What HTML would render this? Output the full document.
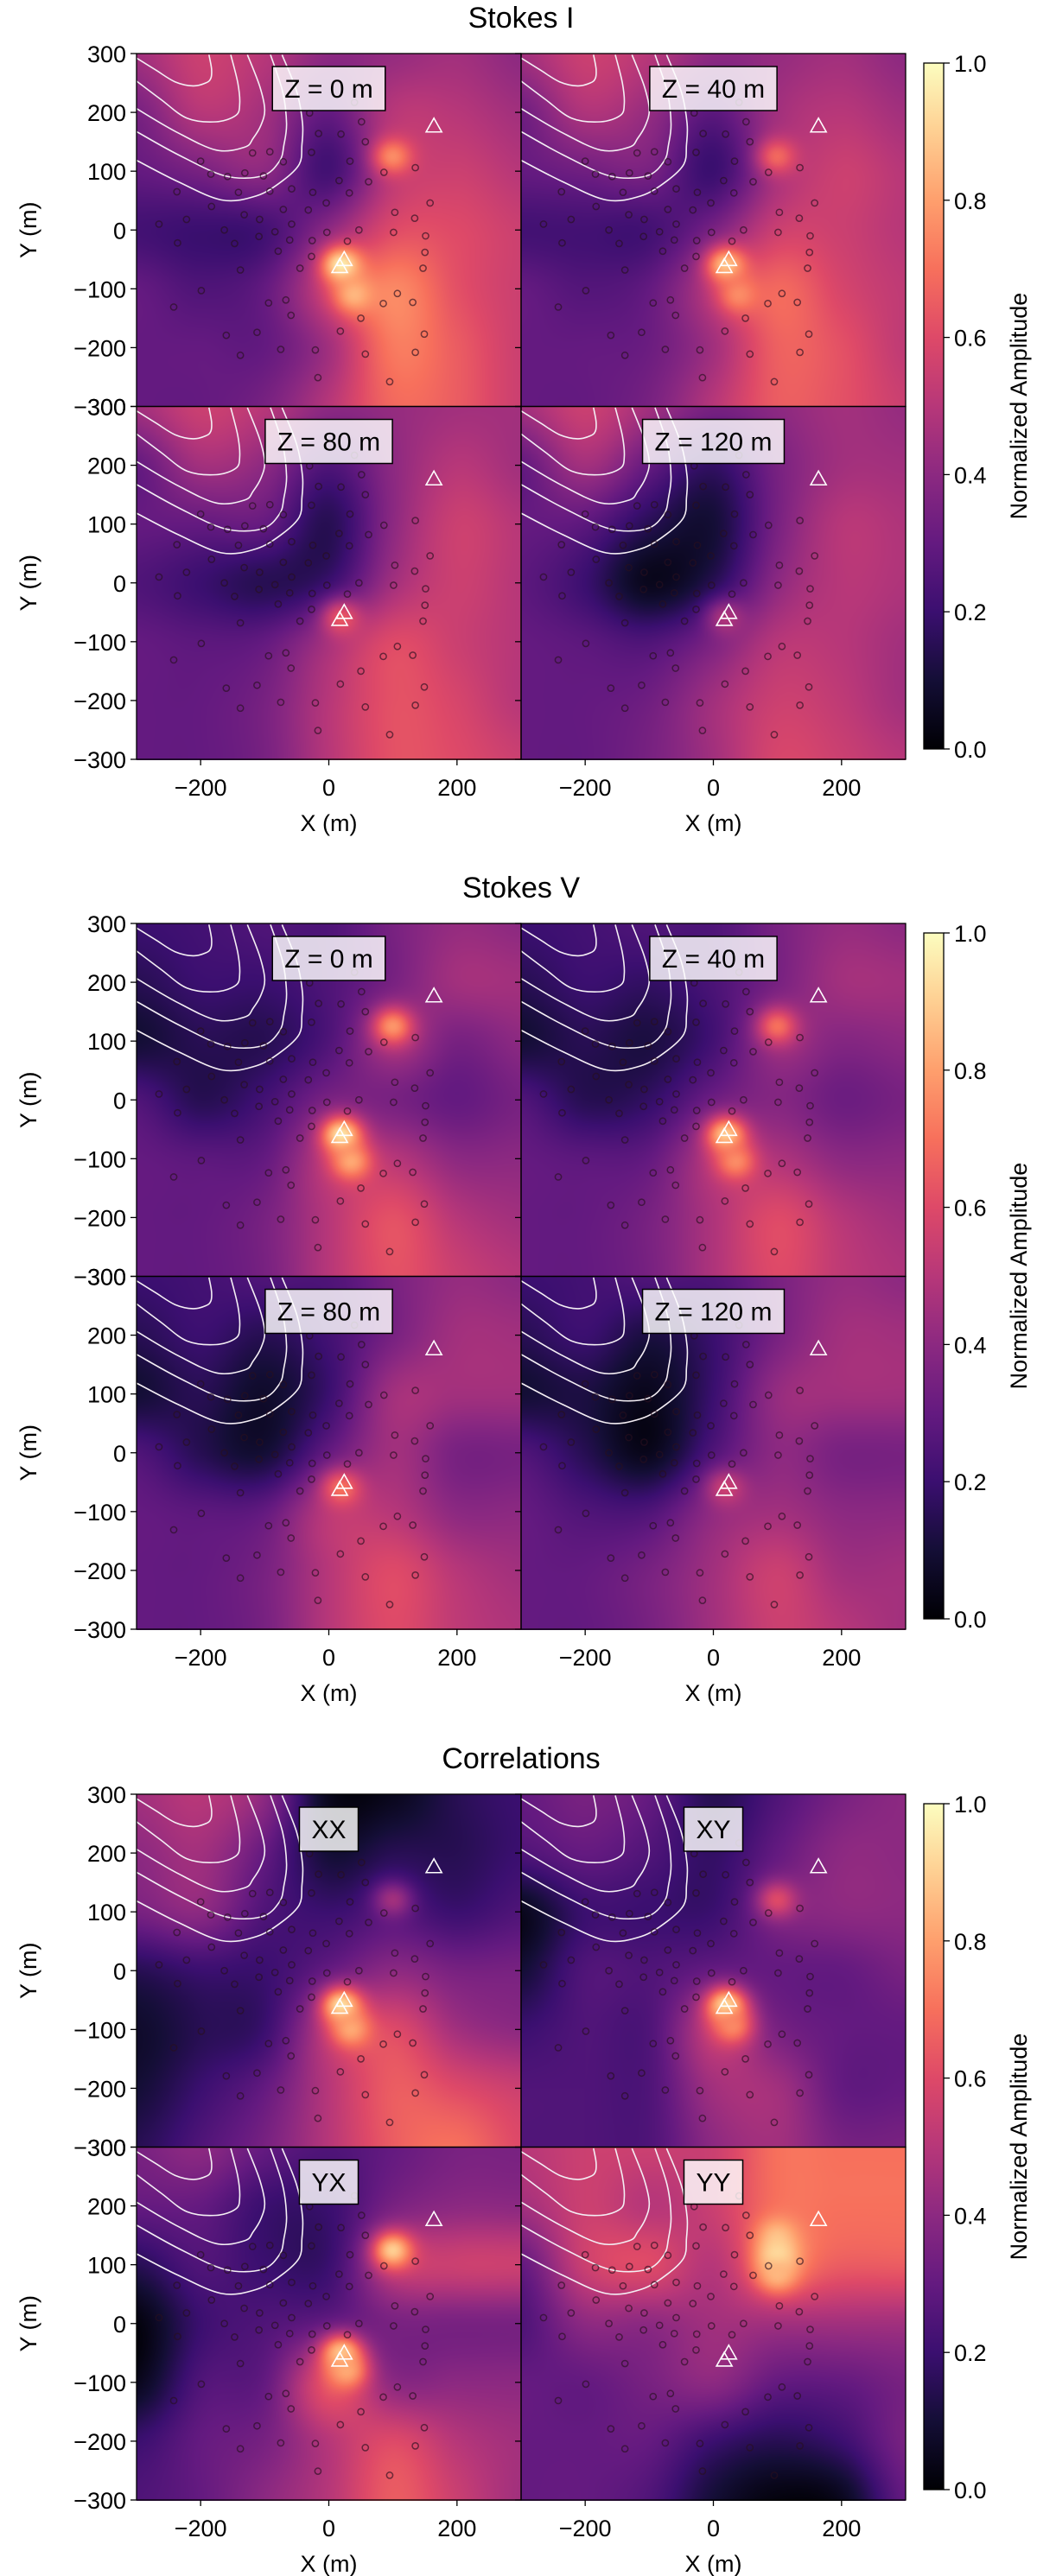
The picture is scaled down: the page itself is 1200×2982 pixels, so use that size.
<!DOCTYPE html>
<html><head><meta charset="utf-8">
<style>
html,body{margin:0;padding:0;background:#fff;}
#root{position:relative;width:1200px;height:2982px;overflow:hidden;background:#fff;font-family:"Liberation Sans","DejaVu Sans",sans-serif;}
canvas{position:absolute;}
svg{position:absolute;left:0;top:0;}
</style></head>
<body>
<div id="root">
<svg id="ov" width="1200" height="2982"></svg>
</div>
<script>
// ---- data ----
const groupTitles = ["Stokes I", "Stokes V", "Correlations"];
const panelLabels = [["Z = 0 m","Z = 40 m","Z = 80 m","Z = 120 m"],["Z = 0 m","Z = 40 m","Z = 80 m","Z = 120 m"],["XX","XY","YX","YY"]];
const xTicks = [-200, 0, 200];
const yTicks = [-300, -200, -100, 0, 100, 200, 300];
const cbTicks = [0.0, 0.2, 0.4, 0.6, 0.8, 1.0];
const stationX = [40,-30,51,-16,19,57,-119,-92,-27,-71,-200,33,135,86,-184,-158,-131,-102,16,62,-237,-141,-92,-58,-25,32,-4,158,-183,-71,-32,-132,103,134,-222,-108,-265,-58,-163,-84,-3,47,101,151,-109,-61,-26,29,-236,-147,-79,150,-27,-45,-138,147,-199,107,-242,-94,-67,85,131,-59,50,18,-160,-112,149,-75,-21,135,-138,57,-17,95];
const stationY = [217,199,184,164,163,150,131,133,132,116,117,117,106,98,95,91,97,92,84,82,65,64,66,70,64,63,46,46,40,35,34,26,30,20,18,18,10,10,0,-3,-4,0,-4,-10,-11,-17,-18,-19,-22,-23,-36,-38,-45,-65,-68,-65,-103,-108,-131,-124,-119,-125,-123,-145,-150,-172,-179,-174,-177,-203,-204,-208,-213,-211,-251,-258];
const ventX = [164, 24, 17];
const ventY = [177, -50, -62];
const contour1X = [-187,-183,-184,-192,-212,-240,-270,-301];
const contour1Y = [298,274,258,250,245,252,272,293];
const contour2X = [-153,-142,-139,-145,-176,-221,-262,-301];
const contour2Y = [298,250,215,195,184,190,222,254];
const contour3X = [-127,-108,-100,-106,-118,-131,-176,-240,-301];
const contour3Y = [298,245,205,178,156,141,136,168,207];
const contour4X = [-91,-72,-66,-70,-77,-104,-162,-235,-301];
const contour4Y = [298,235,181,145,117,92,92,128,168];
const contour5X = [-73,-50,-41,-42,-46,-73,-113,-167,-235,-301];
const contour5Y = [298,235,181,145,112,83,58,51,82,119];
// amplitude grids: rows Y=300..-300 step 100, cols X=-300..300 step 100
const gridStokesI0 = [
[0.45,0.55,0.50,0.40,0.42,0.45,0.40],
[0.35,0.50,0.45,0.30,0.50,0.50,0.45],
[0.30,0.35,0.40,0.22,0.50,0.55,0.50],
[0.22,0.20,0.22,0.40,0.60,0.60,0.55],
[0.30,0.25,0.30,0.55,0.75,0.62,0.55],
[0.30,0.30,0.30,0.45,0.72,0.65,0.55],
[0.30,0.30,0.35,0.50,0.68,0.65,0.55]];
const gridStokesI40 = [
[0.45,0.55,0.50,0.40,0.42,0.45,0.40],
[0.33,0.48,0.42,0.28,0.45,0.50,0.45],
[0.30,0.33,0.35,0.20,0.45,0.55,0.50],
[0.22,0.22,0.22,0.35,0.55,0.55,0.50],
[0.30,0.26,0.30,0.50,0.68,0.58,0.52],
[0.30,0.30,0.32,0.45,0.66,0.62,0.52],
[0.30,0.30,0.35,0.50,0.65,0.62,0.55]];
const gridStokesI80 = [
[0.45,0.55,0.50,0.40,0.42,0.45,0.45],
[0.30,0.45,0.40,0.25,0.40,0.50,0.45],
[0.30,0.30,0.30,0.15,0.40,0.55,0.50],
[0.25,0.20,0.15,0.20,0.45,0.55,0.50],
[0.30,0.28,0.30,0.45,0.60,0.55,0.50],
[0.30,0.30,0.35,0.50,0.62,0.58,0.50],
[0.30,0.30,0.35,0.50,0.62,0.60,0.55]];
const gridStokesI120 = [
[0.45,0.55,0.45,0.35,0.40,0.45,0.42],
[0.30,0.45,0.30,0.18,0.35,0.45,0.45],
[0.30,0.28,0.15,0.10,0.35,0.50,0.48],
[0.28,0.20,0.05,0.15,0.40,0.50,0.48],
[0.30,0.28,0.25,0.35,0.50,0.50,0.45],
[0.30,0.30,0.33,0.45,0.55,0.52,0.45],
[0.30,0.30,0.35,0.45,0.58,0.55,0.50]];
const gridStokesV0 = [
[0.20,0.22,0.25,0.25,0.35,0.42,0.40],
[0.15,0.20,0.20,0.25,0.35,0.45,0.45],
[0.10,0.15,0.15,0.25,0.45,0.35,0.40],
[0.25,0.15,0.22,0.35,0.35,0.30,0.35],
[0.30,0.28,0.30,0.50,0.50,0.40,0.40],
[0.30,0.30,0.35,0.50,0.62,0.50,0.45],
[0.30,0.30,0.35,0.50,0.62,0.55,0.50]];
const gridStokesV40 = [
[0.20,0.22,0.25,0.25,0.35,0.42,0.40],
[0.15,0.20,0.18,0.24,0.35,0.45,0.45],
[0.10,0.15,0.12,0.22,0.42,0.38,0.40],
[0.25,0.15,0.18,0.32,0.38,0.32,0.35],
[0.30,0.28,0.30,0.48,0.48,0.40,0.40],
[0.30,0.30,0.35,0.48,0.60,0.50,0.45],
[0.30,0.30,0.35,0.48,0.60,0.52,0.48]];
const gridStokesV80 = [
[0.20,0.22,0.25,0.25,0.35,0.42,0.40],
[0.15,0.20,0.15,0.22,0.35,0.45,0.45],
[0.10,0.15,0.08,0.20,0.45,0.45,0.45],
[0.25,0.15,0.10,0.30,0.45,0.35,0.35],
[0.30,0.28,0.30,0.50,0.50,0.40,0.40],
[0.30,0.30,0.35,0.50,0.60,0.50,0.45],
[0.30,0.30,0.35,0.50,0.60,0.52,0.48]];
const gridStokesV120 = [
[0.20,0.22,0.25,0.25,0.35,0.42,0.40],
[0.15,0.20,0.12,0.20,0.35,0.45,0.45],
[0.10,0.12,0.05,0.20,0.42,0.45,0.45],
[0.25,0.15,0.05,0.25,0.40,0.35,0.35],
[0.30,0.25,0.25,0.40,0.45,0.40,0.40],
[0.30,0.30,0.35,0.45,0.55,0.45,0.45],
[0.30,0.30,0.35,0.45,0.55,0.50,0.45]];
const gridXX = [
[0.45,0.50,0.40,0.05,0.05,0.15,0.20],
[0.40,0.45,0.30,0.10,0.15,0.15,0.20],
[0.35,0.40,0.25,0.20,0.25,0.20,0.25],
[0.15,0.20,0.20,0.30,0.40,0.35,0.35],
[0.08,0.15,0.20,0.50,0.60,0.45,0.40],
[0.10,0.20,0.30,0.50,0.65,0.60,0.55],
[0.15,0.25,0.35,0.50,0.65,0.70,0.60]];
const gridXY = [
[0.30,0.35,0.30,0.15,0.25,0.35,0.40],
[0.25,0.30,0.25,0.18,0.30,0.40,0.40],
[0.05,0.20,0.20,0.20,0.35,0.40,0.40],
[0.10,0.25,0.25,0.30,0.30,0.30,0.35],
[0.20,0.25,0.25,0.50,0.35,0.30,0.30],
[0.25,0.25,0.25,0.45,0.45,0.30,0.30],
[0.25,0.25,0.25,0.40,0.45,0.35,0.35]];
const gridYX = [
[0.35,0.40,0.30,0.25,0.30,0.35,0.35],
[0.30,0.30,0.20,0.20,0.35,0.40,0.40],
[0.15,0.25,0.20,0.20,0.50,0.55,0.55],
[0.02,0.20,0.25,0.30,0.35,0.35,0.35],
[0.05,0.25,0.30,0.60,0.40,0.40,0.40],
[0.20,0.30,0.35,0.50,0.60,0.50,0.45],
[0.25,0.30,0.40,0.50,0.65,0.55,0.45]];
const gridYY = [
[0.50,0.55,0.55,0.55,0.70,0.70,0.70],
[0.45,0.55,0.50,0.55,0.70,0.70,0.70],
[0.30,0.55,0.60,0.50,0.70,0.65,0.65],
[0.25,0.40,0.40,0.45,0.45,0.45,0.45],
[0.30,0.30,0.35,0.40,0.30,0.30,0.35],
[0.30,0.30,0.30,0.20,0.15,0.20,0.35],
[0.30,0.30,0.25,0.10,0.02,0.05,0.30]];
// bright spots: [x, y, amplitude]
const peaksStokesI0 = [[20,-60,0.97],[40,-110,0.85],[100,125,0.76]];
const peaksStokesI40 = [[20,-60,0.88],[40,-110,0.76],[100,125,0.68]];
const peaksStokesI80 = [[20,-60,0.64]];
const peaksStokesI120 = [[20,-60,0.48]];
const peaksStokesV0 = [[20,-60,0.96],[35,-105,0.82],[100,125,0.78]];
const peaksStokesV40 = [[20,-60,0.9],[35,-105,0.76],[100,125,0.7]];
const peaksStokesV80 = [[20,-60,0.7]];
const peaksStokesV120 = [[20,-60,0.55]];
const peaksXX = [[20,-60,0.95],[35,-100,0.82],[100,120,0.45]];
const peaksXY = [[20,-60,0.95],[30,-95,0.75],[100,120,0.6]];
const peaksYX = [[20,-50,0.9],[28,-80,0.82],[100,125,0.9]];
const peaksYY = [[100,150,0.85],[100,115,0.95],[100,85,0.85]];

const grids = [[gridStokesI0,gridStokesI40,gridStokesI80,gridStokesI120],[gridStokesV0,gridStokesV40,gridStokesV80,gridStokesV120],[gridXX,gridXY,gridYX,gridYY]];
const peaks = [[peaksStokesI0,peaksStokesI40,peaksStokesI80,peaksStokesI120],[peaksStokesV0,peaksStokesV40,peaksStokesV80,peaksStokesV120],[peaksXX,peaksXY,peaksYX,peaksYY]];

// ---- layout ----
const groupTop = [62, 1069, 2077];
const colLeft = [158, 603];
const PW = 445, PH = 408.5;
const CBX = 1069, CBW = 23;
const SIG = 22;

const magma = [[0,0,0,4],[0.1,20,14,54],[0.2,59,15,112],[0.3,100,26,128],[0.4,140,41,129],[0.5,183,55,121],[0.6,222,73,104],[0.7,247,112,92],[0.8,254,159,109],[0.9,254,207,146],[1,252,253,191]];
function cmap(v){
  v=Math.max(0,Math.min(1,v));
  for(let i=1;i<magma.length;i++){
    if(v<=magma[i][0]){const a=magma[i-1],b=magma[i],t=(v-a[0])/(b[0]-a[0]);
      return [a[1]+(b[1]-a[1])*t,a[2]+(b[2]-a[2])*t,a[3]+(b[3]-a[3])*t];}
  }
  return [252,253,191];
}
function cr(p0,p1,p2,p3,t){return 0.5*((2*p1)+(-p0+p2)*t+(2*p0-5*p1+4*p2-p3)*t*t+(-p0+3*p1-3*p2+p3)*t*t*t);}
function sampleGrid(g,x,y){
  const gx=(x+300)/100, gy=(300-y)/100;
  const ix=Math.min(5,Math.floor(gx)), iy=Math.min(5,Math.floor(gy));
  const tx=gx-ix, ty=gy-iy;
  const at=(r,c)=>g[Math.max(0,Math.min(6,r))][Math.max(0,Math.min(6,c))];
  const rows=[];
  for(let k=-1;k<=2;k++){const r=iy+k;rows.push(cr(at(r,ix-1),at(r,ix),at(r,ix+1),at(r,ix+2),tx));}
  return cr(rows[0],rows[1],rows[2],rows[3],ty);
}
const xPix=(v,l)=>l+(v+300)/600*PW;
const yPix=(v,t)=>t+(300-v)/600*PH;

const root=document.getElementById('root');
const svg=document.getElementById('ov');
const NS='http://www.w3.org/2000/svg';
function mk(tag,attrs,parent){const e=document.createElementNS(NS,tag);for(const k in attrs)e.setAttribute(k,attrs[k]);(parent||svg).appendChild(e);return e;}
const fmt=v=>(v<0?'\u2212':'')+Math.abs(v);

function smoothPath(xs,ys,L,T){
  const pts=xs.map((x,i)=>[xPix(x,L),yPix(ys[i],T)]);
  let d='M'+pts[0][0].toFixed(1)+','+pts[0][1].toFixed(1);
  for(let i=0;i<pts.length-1;i++){
    const p0=pts[Math.max(0,i-1)],p1=pts[i],p2=pts[i+1],p3=pts[Math.min(pts.length-1,i+2)];
    const c1=[p1[0]+(p2[0]-p0[0])/6,p1[1]+(p2[1]-p0[1])/6];
    const c2=[p2[0]-(p3[0]-p1[0])/6,p2[1]-(p3[1]-p1[1])/6];
    d+=`C${c1[0].toFixed(1)},${c1[1].toFixed(1)} ${c2[0].toFixed(1)},${c2[1].toFixed(1)} ${p2[0].toFixed(1)},${p2[1].toFixed(1)}`;
  }
  return d;
}

const defs=mk('defs',{});
const lg=mk('linearGradient',{id:'magmaGrad',x1:'0',y1:'1',x2:'0',y2:'0'},defs);
magma.forEach(m=>mk('stop',{offset:m[0],'stop-color':`rgb(${m[1]},${m[2]},${m[3]})`},lg));

for(let g=0;g<3;g++){
  const top=groupTop[g];
  const t=mk('text',{x:603,y:top-30,'font-size':34,'text-anchor':'middle',fill:'#000'});
  t.textContent=groupTitles[g];
  
  
  for(let p=0;p<4;p++){
    const r=Math.floor(p/2), c=p%2;
    const L=colLeft[c], T=top+r*PH;
    const cv=document.createElement('canvas');
    cv.width=PW; cv.height=Math.round(PH);
    cv.style.left=L+'px'; cv.style.top=T+'px';
    
    
    root.insertBefore(cv,svg);
    const ctx=cv.getContext('2d');
    const img=ctx.createImageData(cv.width,cv.height);
    const grid=grids[g][p], pk=peaks[g][p];
    for(let py=0;py<cv.height;py++){
      const y=300-(py+0.5)/PH*600;
      for(let px=0;px<cv.width;px++){
        const x=(px+0.5)/PW*600-300;
        let v=sampleGrid(grid,x,y);
        for(const q of pk){
          const dx=x-q[0], dy=y-q[1];
          const w=Math.exp(-(dx*dx+dy*dy)/(2*SIG*SIG));
          v=v+(q[2]-v)*w;
        }
        const col=cmap(v), i=(py*cv.width+px)*4;
        img.data[i]=col[0];img.data[i+1]=col[1];img.data[i+2]=col[2];img.data[i+3]=255;
      }
    }
    ctx.putImageData(img,0,0);
    const cxs=[contour1X,contour2X,contour3X,contour4X,contour5X], cys=[contour1Y,contour2Y,contour3Y,contour4Y,contour5Y];
    const clipId='clip'+g+'_'+p;
    const cp=mk('clipPath',{id:clipId},defs);
    mk('rect',{x:L,y:T,width:PW,height:PH},cp);
    const cg=mk('g',{'clip-path':`url(#${clipId})`});
    for(let k=0;k<5;k++){
      const pth=mk('path',{d:smoothPath(cxs[k],cys[k],L,T),fill:'none',stroke:'#f4eef4','stroke-width':1.6,'stroke-linejoin':'round'},cg);
      
      
    }
    for(let j=0;j<stationX.length;j++){
      const s=mk('circle',{cx:xPix(stationX[j],L),cy:yPix(stationY[j],T),r:3.6,fill:'none',stroke:'rgba(40,15,30,0.65)','stroke-width':1.5},cg);
      
      
    }
    for(let j=0;j<ventX.length;j++){
      const vx=xPix(ventX[j],L), vy=yPix(ventY[j],T);
      const tri=mk('path',{d:`M${vx},${vy-9}L${vx+9},${vy+7}L${vx-9},${vy+7}Z`,fill:'none',stroke:'#fff','stroke-width':1.6},cg);
      
      
    }
    const fr=mk('rect',{x:L,y:T,width:PW,height:PH,fill:'none',stroke:'#000','stroke-width':1.3});
    
    
    const lbg=mk('g',{});
    
    
    const rect=mk('rect',{x:0,y:T+15,width:10,height:51,fill:'rgba(255,255,255,0.82)',stroke:'#000','stroke-width':1.5},lbg);
    const lt=mk('text',{x:L+PW/2,y:T+51,'font-size':30,'text-anchor':'middle',fill:'#000'},lbg);
    lt.textContent=panelLabels[g][p];
    const tw=lt.getComputedTextLength();
    rect.setAttribute('x',L+PW/2-tw/2-14); rect.setAttribute('width',tw+28);
    for(const v of yTicks){
      const yy=yPix(v,T);
      mk('line',{x1:L-7,x2:L,y1:yy,y2:yy,stroke:'#000','stroke-width':1.3});
      if(c===0){
        const tl=mk('text',{x:L-12,y:yy+10,'font-size':27,'text-anchor':'end',fill:'#000'});
        tl.textContent=fmt(v);
        
        
      }
    }
    if(c===0){
      const yl=mk('text',{x:0,y:0,'font-size':27,'text-anchor':'middle',fill:'#000',transform:`translate(42,${T+PH/2}) rotate(-90)`});
      yl.textContent='Y (m)';
      
      
    }
    if(r===1){
      for(const v of xTicks){
        const xx=xPix(v,L);
        mk('line',{x1:xx,x2:xx,y1:T+PH,y2:T+PH+7,stroke:'#000','stroke-width':1.3});
        const tl=mk('text',{x:xx,y:T+PH+42,'font-size':27,'text-anchor':'middle',fill:'#000'});
        tl.textContent=fmt(v);
        
        
      }
      const xl=mk('text',{x:L+PW/2,y:T+PH+83,'font-size':27,'text-anchor':'middle',fill:'#000'});
      xl.textContent='X (m)';
      
      
    }
  }
  const cbT=top+11, cbH=794;
  const cb=mk('rect',{x:CBX,y:cbT,width:CBW,height:cbH,fill:'url(#magmaGrad)',stroke:'#000','stroke-width':1.3});
  
  
  for(const v of cbTicks){
    const yy=cbT+cbH*(1-v);
    mk('line',{x1:CBX+CBW,x2:CBX+CBW+7,y1:yy,y2:yy,stroke:'#000','stroke-width':1.3});
    const tl=mk('text',{x:CBX+CBW+12,y:yy+10,'font-size':27,fill:'#000'});
    tl.textContent=v.toFixed(1);
    
    
  }
  const cl=mk('text',{x:0,y:0,'font-size':27,'text-anchor':'middle',fill:'#000',transform:`translate(1188,${cbT+cbH/2}) rotate(-90)`});
  cl.textContent='Normalized Amplitude';
  
  
}
</script>
</body></html>
